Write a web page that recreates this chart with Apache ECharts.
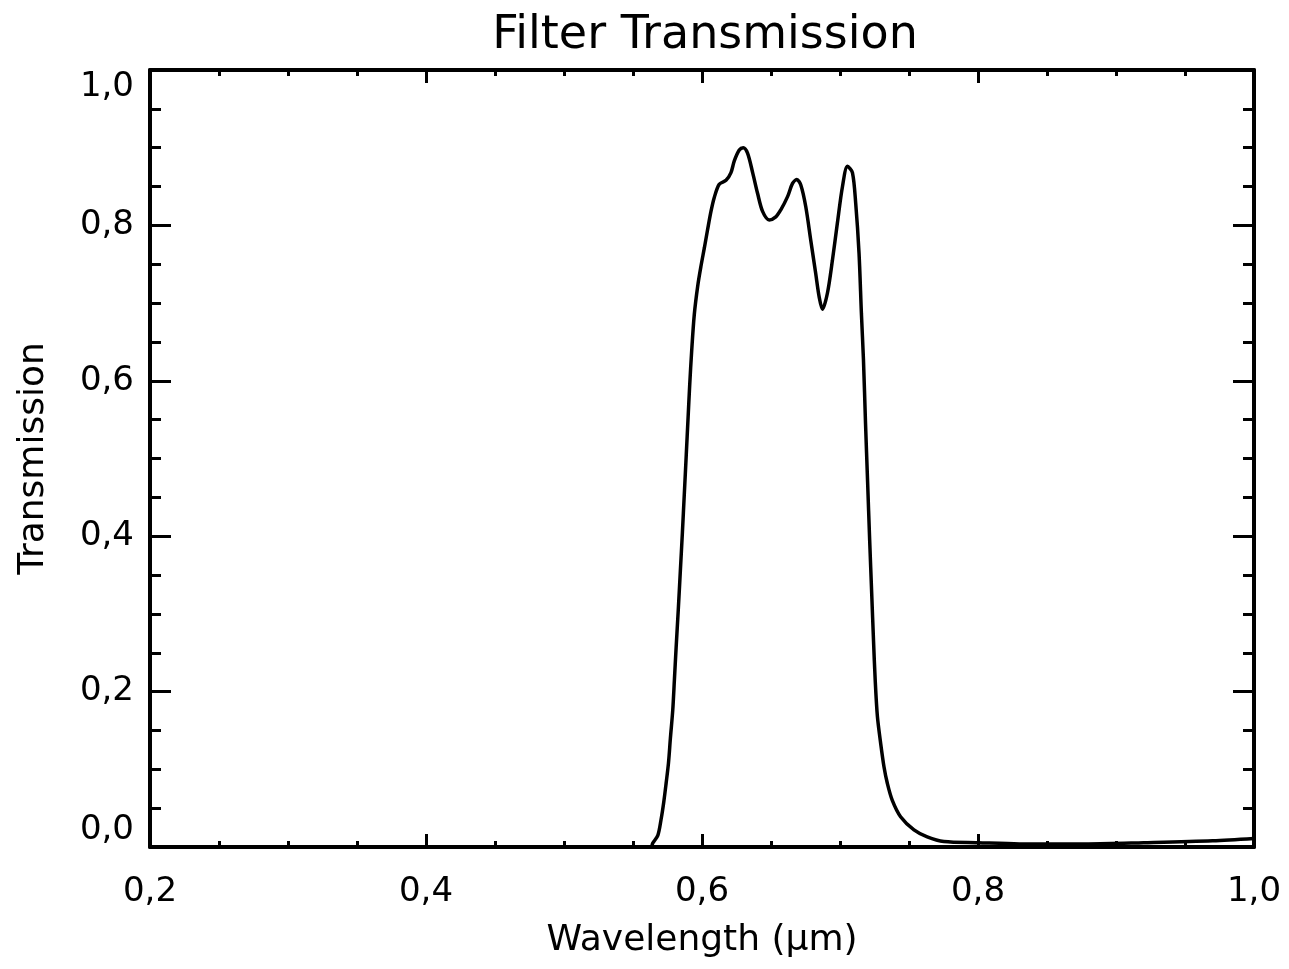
<!DOCTYPE html>
<html>
<head>
<meta charset="utf-8">
<title>Filter Transmission</title>
<script src="https://cdn.jsdelivr.net/npm/echarts@6/dist/echarts.min.js"></script>
<style>
  html, body { margin: 0; padding: 0; background: #fff; }
  #main { width: 1289px; height: 969px; }
</style>
</head>
<body>
<div id="main"></div>
<script>
// wavelength (um)
const wavelength = [
  0.20, 0.55, 0.563, 0.5643, 0.568, 0.5703, 0.5723, 0.574, 0.5757, 0.5771,
  0.5788, 0.580, 0.5812, 0.5828, 0.5843, 0.5858, 0.5872, 0.5886, 0.5899, 0.5911,
  0.5925, 0.5944, 0.5969, 0.5993, 0.6017, 0.604, 0.6065, 0.6089, 0.6125, 0.6174,
  0.621, 0.6234, 0.627, 0.6299, 0.633, 0.6367, 0.6403, 0.6439, 0.6487, 0.6535,
  0.6571, 0.662, 0.6656, 0.6687, 0.6716, 0.6752, 0.6788, 0.6824, 0.6849, 0.6873,
  0.6909, 0.6945, 0.6981, 0.7018, 0.7054, 0.709, 0.7114, 0.7138, 0.7155, 0.717,
  0.7185, 0.720, 0.7215, 0.723, 0.7243, 0.7255, 0.7271, 0.7295, 0.7319,
  0.7343, 0.7379, 0.7439, 0.7536, 0.7632, 0.7753, 0.80, 0.83, 0.88, 0.92,
  0.97, 1.00
];
// transmission at each wavelength
const transmission = [
  0.000, 0.000, 0.000, 0.005, 0.015, 0.035, 0.058, 0.082, 0.108, 0.140,
  0.176, 0.215, 0.255, 0.305, 0.355, 0.405, 0.455, 0.505, 0.552, 0.595,
  0.638, 0.685, 0.722, 0.748, 0.771, 0.794, 0.818, 0.836, 0.853, 0.858,
  0.868, 0.883, 0.897, 0.900, 0.893, 0.868, 0.841, 0.818, 0.807, 0.811,
  0.820, 0.837, 0.854, 0.859, 0.852, 0.824, 0.781, 0.738, 0.708, 0.692,
  0.713, 0.755, 0.803, 0.850, 0.876, 0.868, 0.828, 0.764, 0.687, 0.627,
  0.545, 0.470, 0.395, 0.325, 0.265, 0.215, 0.168, 0.133, 0.103,
  0.082, 0.060, 0.039, 0.022, 0.013, 0.007, 0.0055, 0.004, 0.004, 0.0055,
  0.008, 0.011
];

const FONT = "DejaVu Sans";
const fmt = function (v) { return v.toFixed(1).replace(".", ","); };

let chart = echarts.init(document.getElementById("main"));

// frame axes share the same settings, only ticks / labels differ
function xAx(pos, show) {
  return {
    type: "value", position: pos, min: 0.2, max: 1.0, interval: 0.2,
    axisLine: { show: true, onZero: false, lineStyle: { color: "#000", width: 4 } },
    axisTick: { show: true, inside: true, length: 13, lineStyle: { color: "#000", width: 3 } },
    minorTick: { show: true, splitNumber: 4, length: 6, lineStyle: { color: "#000", width: 3 } },
    axisLabel: { show: show, margin: 28, color: "#000", fontFamily: FONT, fontSize: 34, formatter: fmt },
    splitLine: { show: false },
    name: show ? "Wavelength (\u03bcm)" : "",
    nameLocation: "middle", nameGap: 76,
    nameTextStyle: { color: "#000", fontFamily: FONT, fontSize: 36 }
  };
}
function yAx(pos, show) {
  return {
    type: "value", position: pos, min: 0, max: 1.0, interval: 0.2,
    axisLine: { show: true, onZero: false, lineStyle: { color: "#000", width: 4 } },
    axisTick: { show: true, inside: true, length: 21, lineStyle: { color: "#000", width: 3 } },
    minorTick: { show: true, splitNumber: 4, length: 11, lineStyle: { color: "#000", width: 3 } },
    axisLabel: {
      show: show, margin: 16, color: "#000", fontFamily: FONT, fontSize: 34, formatter: fmt,
      verticalAlignMinLabel: "bottom", verticalAlignMaxLabel: "top"
    },
    splitLine: { show: false },
    name: show ? "Transmission" : "",
    nameLocation: "middle", nameGap: 98,
    nameTextStyle: { color: "#000", fontFamily: FONT, fontSize: 36 }
  };
}

let option = {
  backgroundColor: "#fff",
  animation: false,
  title: {
    text: "Filter Transmission",
    left: 700, top: 8, textAlign: "center",
    textStyle: { color: "#000", fontFamily: FONT, fontSize: 46, fontWeight: "normal" }
  },
  grid: { left: 150, right: 35, top: 70, bottom: 122, containLabel: false },
  xAxis: [xAx("bottom", true), xAx("top", false)],
  yAxis: [yAx("left", true), yAx("right", false)],
  series: [
    {
      type: "line",
      xAxisIndex: 0,
      yAxisIndex: 0,
      showSymbol: false,
      smooth: 0.3,
      lineStyle: { color: "#000", width: 3.5 },
      data: wavelength.map(function (w, i) { return [w, transmission[i]]; })
    }
  ]
};
chart.setOption(option);
</script>
</body>
</html>
